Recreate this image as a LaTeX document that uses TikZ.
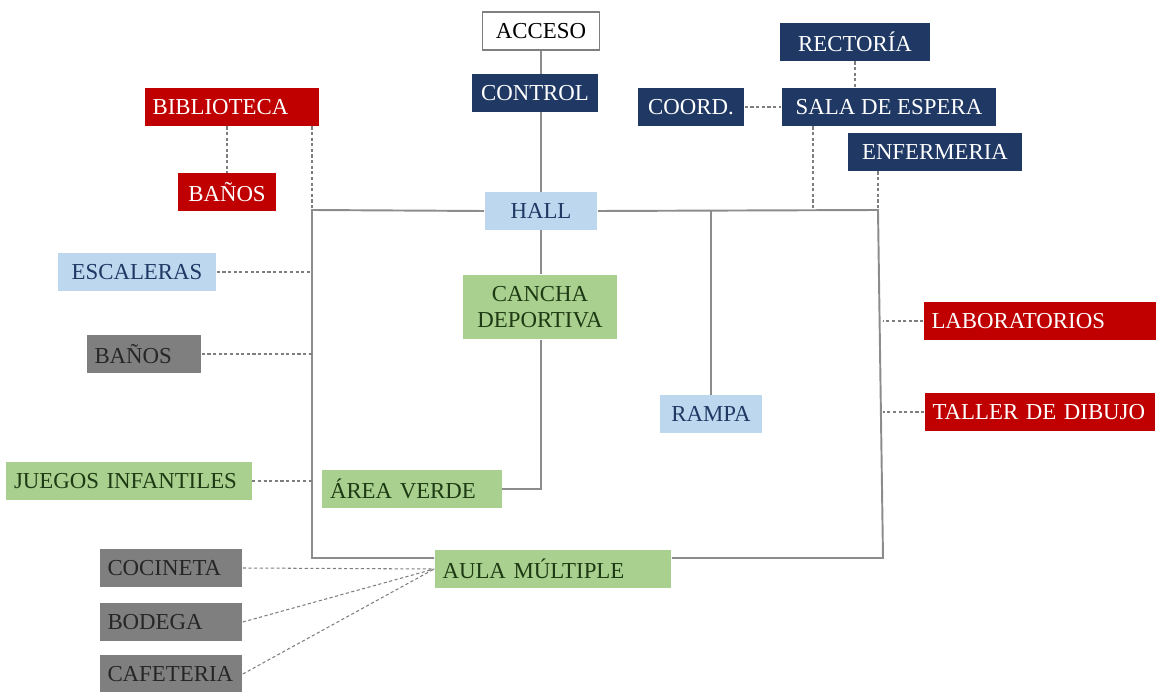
\documentclass[tikz,border=0pt]{standalone}
\usepackage{fontspec}
\setmainfont{Liberation Serif}
\usepackage{tikz}
\usetikzlibrary{positioning}
\usepackage{xcolor}
\definecolor{navy}{HTML}{1F3864}
\definecolor{rojo}{HTML}{C00000}
\definecolor{celeste}{HTML}{BDD7EE}
\definecolor{verdeC}{HTML}{A9D08E}
\definecolor{gris}{HTML}{7F7F7F}
\definecolor{linea}{HTML}{8C8C8C}
\definecolor{txtverde}{HTML}{1E3A14}

\begin{document}
\begin{tikzpicture}[x=0.02cm, y=-0.02cm]
    \tikzstyle{room} = [rectangle, inner xsep=0.16cm, inner ysep=0pt, minimum height=0.76cm, font=\fontsize{13}{15}\selectfont]
    \tikzstyle{adm} = [room, fill=navy, text=white]
    \tikzstyle{aca} = [room, fill=rojo, text=white]
    \tikzstyle{circ} = [room, fill=celeste, text=navy]
    \tikzstyle{ext} = [room, fill=verdeC, text=txtverde]
    \tikzstyle{serv} = [room, fill=gris, text=black!85]
    \tikzstyle{lft} = [align=left, text width=#1]
    \tikzstyle{wall} = [draw=linea, line width=1.1pt]
    \tikzstyle{link} = [draw=linea!90!black, line width=0.6pt, dash pattern=on 1.8pt off 1.4pt]
    \useasboundingbox (0,0) rectangle (1156,692);

    % accesos y administracion
    \node [room, draw=gris, line width=0.6pt, minimum width=2.34cm] at (541,31) (acceso) {ACCESO};
    \node [adm, minimum width=2.52cm] at (535,93) (control) {CONTROL};
    \node [adm, minimum width=3.0cm] at (855,42) (rectoria) {RECTORÍA};
    \node [adm, minimum width=2.14cm] at (691,107) (coord) {COORD.};
    \node [adm, minimum width=4.3cm] at (889,107) (sala) {SALA DE ESPERA};
    \node [adm, minimum width=3.48cm] at (935,152) (enfermeria) {ENFERMERIA};

    % bloque izquierdo
    \node [aca, lft=3.18cm] at (232,107) (biblio) {BIBLIOTECA};
    \node [aca, minimum width=1.98cm] at (227,192) (banosA) {BAÑOS};
    \node [circ, minimum width=3.18cm] at (137,272) (escaleras) {ESCALERAS};
    \node [serv, lft=1.98cm] at (144,354) (banosB) {BAÑOS};
    \node [ext, lft=4.6cm] at (129,481) (juegos) {JUEGOS INFANTILES};

    % centro
    \node [circ, minimum width=2.26cm] at (541,211) (hall) {HALL};
    \node [ext, align=center, minimum width=3.08cm, minimum height=1.3cm] at (540,307) (cancha) {CANCHA\\DEPORTIVA};
    \node [circ, minimum width=2.06cm] at (711,414) (rampa) {RAMPA};
    \node [ext, lft=3.28cm] at (412,489) (verde) {ÁREA VERDE};
    \node [ext, lft=4.42cm] at (553,569) (aula) {AULA MÚLTIPLE};

    % bloque derecho
    \node [aca, lft=4.34cm] at (1040,321) (labs) {LABORATORIOS};
    \node [aca, lft=4.3cm] at (1040,412) (taller) {TALLER DE DIBUJO};

    % servicios del aula
    \node [serv, lft=2.54cm] at (171,568) (cocineta) {COCINETA};
    \node [serv, lft=2.54cm] at (171,622) (bodega) {BODEGA};
    \node [serv, lft=2.54cm] at (171,674) (cafeteria) {CAFETERIA};

    \coordinate (tl) at (312,210);
    \coordinate (tr) at (878,210);
    \coordinate (bl) at (312,558);
    \coordinate (br) at (883,558);
    \coordinate (s1) at (813,210);

    % eje principal
    \draw[wall] (acceso.south) -- (acceso.south |- control.north);
    \draw[wall] (acceso.south |- control.south) -- (hall.north);
    \draw[wall] (hall.south) -- (hall.south |- cancha.north);
    \draw[wall] (hall.south |- cancha.south) -- (hall.south |- verde.east) -- (verde.east);
    \draw[wall] (hall.west) -- (tl) -- (bl) -- (bl -| aula.west);
    \draw[wall] (aula.east |- br) -- (br) -- (tr) -- (hall.east);
    \draw[wall] (rampa.north |- tr) -- (rampa.north);

    % relaciones secundarias
    \draw[link] (tl |- biblio.south) -- (tl);
    \draw[link] (biblio.south -| banosA.north) -- (banosA.north);
    \draw[link] (rectoria.south) -- (rectoria.south |- sala.north);
    \draw[link] (coord.east) -- (sala.west);
    \draw[link] (s1 |- sala.south) -- (s1);
    \draw[link] (tr |- enfermeria.south) -- (tr);
    \draw[link] (escaleras.east) -- (escaleras.east -| tl);
    \draw[link] (banosB.east) -- (banosB.east -| tl);
    \draw[link] (juegos.east) -- (juegos.east -| tl);
    \draw[link] (labs.west) -- (labs.west -| br);
    \draw[link] (taller.west) -- (taller.west -| br);
    \draw[link] (cocineta.east) -- (aula.west);
    \draw[link] (bodega.east) -- (aula.west);
    \draw[link] (cafeteria.east) -- (aula.west);
\end{tikzpicture}
\end{document}
